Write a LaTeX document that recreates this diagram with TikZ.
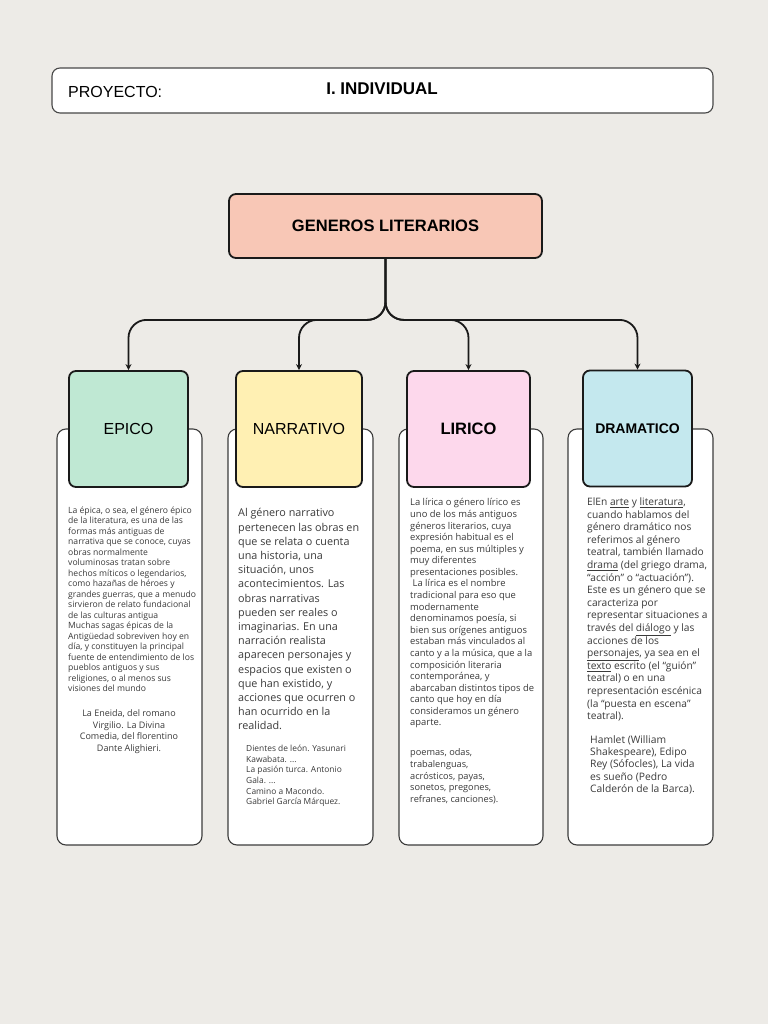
\documentclass[tikz,border=0pt]{standalone}
\usepackage{fontspec}
\setmainfont{Open Sans}
\newfontfamily\headfont{Liberation Sans}
\usetikzlibrary{arrows.meta}
\definecolor{paper}{HTML}{EDEBE7}
\definecolor{salmon}{HTML}{F8C7B6}
\definecolor{mint}{HTML}{BFE8D3}
\definecolor{butter}{HTML}{FFF0B3}
\definecolor{rose}{HTML}{FDD8EC}
\definecolor{sky}{HTML}{C4E8EE}
\definecolor{ink}{HTML}{1A1A1A}
\definecolor{bodytext}{HTML}{3A3A3A}

\begin{document}
\begin{tikzpicture}[x=1pt, y=-1pt,
  genbox/.style={draw=ink, line width=1.8pt, rounded corners=7pt, minimum height=116pt, inner sep=0pt},
  card/.style={draw=ink!85, fill=white, line width=1.1pt, rounded corners=9pt, minimum width=145pt, minimum height=416pt},
  body/.style={text=bodytext, align=left, inner sep=0pt, anchor=north west},
  tree/.style={draw=ink, line width=1.8pt, rounded corners=18pt, -{Stealth[length=6pt,width=6pt]}}]
  \fill[paper] (0,0) rectangle (768,1024);

  \node[draw=ink!80, fill=white, line width=1.1pt, rounded corners=8pt, minimum width=661pt, minimum height=45pt] (proy) at (382.5,90.5) {};
  \node[anchor=west, inner sep=0pt, font=\headfont\fontsize{16}{20}\selectfont] (proylbl) at (68,92) {PROYECTO:};
  \node[font=\headfont\bfseries\fontsize{17}{20}\selectfont] (indiv) at (382,89) {I. INDIVIDUAL};

  \node[card] (epicocard) at (129.5,637) {};
  \node[card] (narrcard) at (300.5,637) {};
  \node[card, minimum width=144pt] (liricocard) at (471,637) {};
  \node[card] (dramacard) at (640.5,637) {};

  \node[genbox, fill=salmon, minimum width=313pt, minimum height=64pt, font=\headfont\bfseries\fontsize{16.5}{20}\selectfont] (gen) at (385.5,226) {GENEROS LITERARIOS};
  \node[genbox, fill=mint, minimum width=119pt, font=\headfont\fontsize{16}{20}\selectfont] (epico) at (128.5,429) {EPICO};
  \node[genbox, fill=butter, minimum width=126pt, font=\headfont\fontsize{16}{20}\selectfont] (narr) at (299,429) {NARRATIVO};
  \node[genbox, fill=rose, minimum width=123pt, font=\headfont\bfseries\fontsize{16.5}{20}\selectfont] (lirico) at (468.5,429) {LIRICO};
  \node[genbox, fill=sky, minimum width=109pt, font=\headfont\bfseries\fontsize{14}{20}\selectfont] (drama) at (637.5,428.5) {DRAMATICO};

  \foreach \n in {epico,narr,lirico,drama}
    \draw[tree] (gen.south) -- ++(0,61) -| (\n.north);

  \node[body, font=\fontsize{8.6}{10.5}\selectfont] (epicotxt) at (68,506.5) {La épica, o sea, el género épico\\
    de la literatura, es una de las\\
    formas más antiguas de\\
    narrativa que se conoce, cuyas\\
    obras normalmente\\
    voluminosas tratan sobre\\
    hechos míticos o legendarios,\\
    como hazañas de héroes y\\
    grandes guerras, que a menudo\\
    sirvieron de relato fundacional\\
    de las culturas antigua\\
    Muchas sagas épicas de la\\
    Antigüedad sobreviven hoy en\\
    día, y constituyen la principal\\
    fuente de entendimiento de los\\
    pueblos antiguos y sus\\
    religiones, o al menos sus\\
    visiones del mundo};
  \node[body, anchor=north, align=center, font=\fontsize{9}{11.7}\selectfont] (epicoej) at (129,709.5) {La Eneida, del romano\\
    Virgilio. La Divina\\
    Comedia, del florentino\\
    Dante Alighieri.};

  \node[body, font=\fontsize{10.8}{14.2}\selectfont] (narrtxt) at (238,508.5) {Al género narrativo\\
    pertenecen las obras en\\
    que se relata o cuenta\\
    una historia, una\\
    situación, unos\\
    acontecimientos. Las\\
    obras narrativas\\
    pueden ser reales o\\
    imaginarias. En una\\
    narración realista\\
    aparecen personajes y\\
    espacios que existen o\\
    que han existido, y\\
    acciones que ocurren o\\
    han ocurrido en la\\
    realidad.};
  \node[body, font=\fontsize{8.4}{10.6}\selectfont] (narrej) at (246,745) {Dientes de león. Yasunari\\
    Kawabata. ...\\
    La pasión turca. Antonio\\
    Gala. ...\\
    Camino a Macondo.\\
    Gabriel García Márquez.};

  \node[body, font=\fontsize{9.4}{11.58}\selectfont] (liricotxt) at (410,498.5) {La lírica o género lírico es\\
    uno de los más antiguos\\
    géneros literarios, cuya\\
    expresión habitual es el\\
    poema, en sus múltiples y\\
    muy diferentes\\
    presentaciones posibles.\\
    \hspace*{2.5pt}La lírica es el nombre\\
    tradicional para eso que\\
    modernamente\\
    denominamos poesía, si\\
    bien sus orígenes antiguos\\
    estaban más vinculados al\\
    canto y a la música, que a la\\
    composición literaria\\
    contemporánea, y\\
    abarcaban distintos tipos de\\
    canto que hoy en día\\
    consideramos un género\\
    aparte.};
  \node[body, font=\fontsize{9.2}{11.75}\selectfont] (liricoej) at (410,748.5) {poemas, odas,\\
    trabalenguas,\\
    acrósticos, payas,\\
    sonetos, pregones,\\
    refranes, canciones).};

  \node[body, font=\fontsize{10.2}{12.6}\selectfont] (dramatxt) at (587,497.5) {ElEn \underline{arte} y \underline{literatura},\\
    cuando hablamos del\\
    género dramático nos\\
    referimos al género\\
    teatral, también llamado\\
    \underline{drama} (del griego drama,\\
    “acción” o “actuación”).\\
    Este es un género que se\\
    caracteriza por\\
    representar situaciones a\\
    través del \underline{diálogo} y las\\
    acciones de los\\
    \underline{personajes}, ya sea en el\\
    \underline{texto} escrito (el “guión”\\
    teatral) o en una\\
    representación escénica\\
    (la “puesta en escena”\\
    teatral).};
  \node[body, font=\fontsize{10.3}{12.2}\selectfont] (dramaej) at (590,735.5) {Hamlet (William\\
    Shakespeare), Edipo\\
    Rey (Sófocles), La vida\\
    es sueño (Pedro\\
    Calderón de la Barca).};
\end{tikzpicture}
\end{document}
